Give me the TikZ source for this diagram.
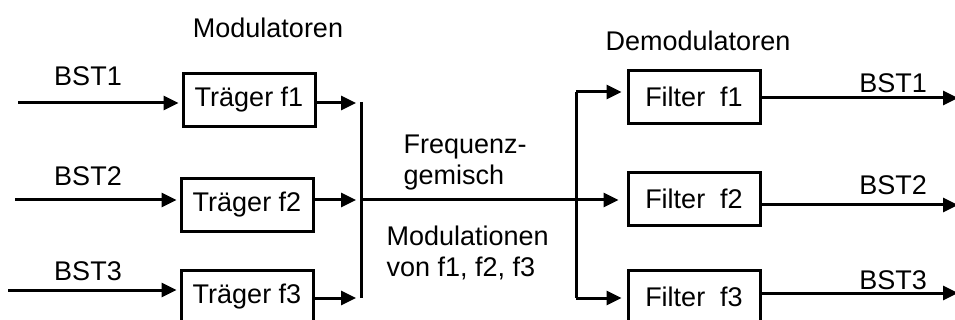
\documentclass[tikz,border=0pt]{standalone}
\usepackage{fontspec}
\setmainfont{Liberation Sans}
\usetikzlibrary{arrows.meta}

\begin{document}
\begin{tikzpicture}[x=1pt,y=-1pt,font=\fontsize{27}{31}\selectfont,
    box/.style={draw,line width=3pt,minimum width=132pt,minimum height=53pt,inner sep=0pt},
    leitung/.style={line width=3pt},
    pfeil/.style={leitung,-{Triangle[length=15pt,width=14pt]},shorten >=3pt}]
\useasboundingbox (0,0) rectangle (955,320);
\clip (0,0) rectangle (955,320);
% Modulatoren
\node[box] (t1) at (249,100) {Tr\"ager f1};
\node[box] (t2) at (247,205) {Tr\"ager f2};
\node[box] (t3) at (247,297) {Tr\"ager f3};
\node (mod) at (268,28) {Modulatoren};
% Demodulatoren
\node[box] (d1) at (694,97) {Filter~~f1};
\node[box] (d2) at (694,199) {Filter~~f2};
\node[box] (d3) at (694,297) {Filter~~f3};
\node (demod) at (698,41) {Demodulatoren};
% Sammelleitungen
\coordinate (lo) at (361,102);
\coordinate (lu) at (361,298);
\coordinate (ro) at (576,92);
\coordinate (ru) at (576,298);
\draw[leitung] (lo) -- (lu);
\draw[leitung] (ro) -- (ru);
\foreach \i/\xa/\ya/\yb/\yl in {1/18/103/103/76,2/15/200/200/176,3/8/290/298/271}{
    \coordinate (e\i) at (\xa,\ya);
    \draw[pfeil] (e\i) -- (e\i -| t\i.west);
    \draw[pfeil,shorten >=5pt] (t\i.east |- 0,\yb) -- (lo |- 0,\yb);
    \node (bl\i) at (88,\yl) {BST\i};
}
\foreach \i/\ya/\yl in {1/98/83,2/205/185,3/293/280}{
    \coordinate (a\i) at (958,\ya);
    \draw[pfeil,shorten >=0pt] (d\i.east |- a\i) -- (a\i);
    \node (br\i) at (893,\yl) {BST\i};
}
\draw[pfeil,shorten >=8pt] (lo |- 0,200) -- (d2.west |- 0,200);
\draw[pfeil,shorten >=5pt] (ro) -- (ro -| d1.west);
\draw[pfeil,shorten >=5pt] (ru) -- (ru -| d3.west);
% Beschriftung
\node[align=left,anchor=west] (fg) at (400,163) {Frequenz-\\gemisch};
\node[align=left,anchor=west] (mv) at (383,253) {Modulationen\\von f1, f2, f3};
\end{tikzpicture}
\end{document}
